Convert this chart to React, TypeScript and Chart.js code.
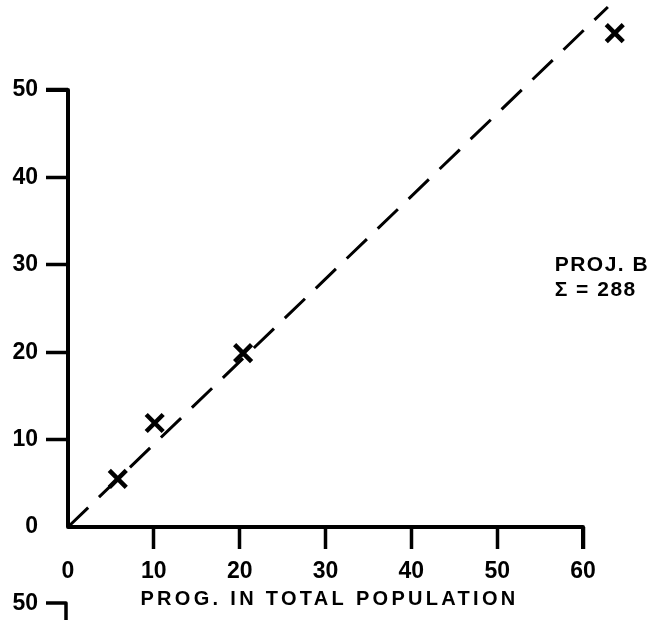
import React, { useEffect, useRef } from "react";
import { Chart, registerables } from "chart.js";

Chart.register(...registerables);

// ---- data ----
const PROG_TOTAL_POP = [5.8, 10.1, 20.4, 63.7]; // x: Prog. in total population
const PROG_PROJECT = [5.5, 11.9, 19.9, 56.5]; // y: Prog. in project B
const FIT_X = [0, 62.9];
const FIT_Y = [0, 59.5];
const X_TICKS = [0, 10, 20, 30, 40, 50, 60];
const Y_TICKS = [0, 10, 20, 30, 40, 50];
const X_TITLE = "PROG. IN TOTAL POPULATION";
const ANNOT_LINES = ["PROJ. B", "\u03A3 = 288"];
const ANNOT_POS = { x: 56.7, y: 30 };
const NEXT_PANEL_LABEL = "50";

const FONT = "'Liberation Sans', Arial, Helvetica, sans-serif";
const TICK_LEN = 22;
const AXIS_W = 4;

const decorPlugin = {
  id: "decor",
  beforeDatasetsDraw(chart: any) {
    const { ctx, scales } = chart;
    const xs = scales.x;
    const ys = scales.y;
    const x0 = xs.getPixelForValue(X_TICKS[0]);
    const x1 = xs.getPixelForValue(X_TICKS[X_TICKS.length - 1]);
    const y0 = ys.getPixelForValue(Y_TICKS[0]);
    const y1 = ys.getPixelForValue(Y_TICKS[Y_TICKS.length - 1]);
    ctx.save();
    ctx.strokeStyle = "#000";
    ctx.lineWidth = AXIS_W;
    ctx.lineJoin = "round";
    ctx.lineCap = "butt";
    ctx.beginPath();
    ctx.moveTo(x0 - TICK_LEN, y1);
    ctx.lineTo(x0, y1);
    ctx.lineTo(x0, y0);
    ctx.lineTo(x1, y0);
    ctx.lineTo(x1, y0 + TICK_LEN);
    ctx.stroke();
    ctx.restore();
  },
  afterDraw(chart: any) {
    const { ctx, scales } = chart;
    const xs = scales.x;
    const ys = scales.y;
    const x0 = xs.getPixelForValue(X_TICKS[0]);
    const x1 = xs.getPixelForValue(X_TICKS[X_TICKS.length - 1]);
    ctx.save();
    ctx.fillStyle = "#000";
    ctx.strokeStyle = "#000";
    // x-axis title
    ctx.font = `bold 20px ${FONT}`;
    (ctx as any).letterSpacing = "3.3px";
    ctx.textAlign = "center";
    ctx.textBaseline = "middle";
    ctx.fillText(X_TITLE, (x0 + x1) / 2 + 4, 599);
    // annotation
    ctx.font = `bold 21px ${FONT}`;
    (ctx as any).letterSpacing = "1.5px";
    ctx.textAlign = "left";
    const ax = xs.getPixelForValue(ANNOT_POS.x);
    const ay = ys.getPixelForValue(ANNOT_POS.y);
    ANNOT_LINES.forEach((t, i) => ctx.fillText(t, ax, ay + i * 25));
    // next panel's top (partially visible)
    ctx.font = `bold 23px ${FONT}`;
    (ctx as any).letterSpacing = "0px";
    ctx.textAlign = "right";
    ctx.fillText(NEXT_PANEL_LABEL, x0 - TICK_LEN - 8, 604);
    ctx.lineWidth = 3.5;
    ctx.lineJoin = "round";
    ctx.beginPath();
    ctx.moveTo(x0 - TICK_LEN, 603);
    ctx.lineTo(x0 - 2, 603);
    ctx.lineTo(x0 - 2, chart.height);
    ctx.stroke();
    ctx.restore();
  },
};

export default function App() {
  const ref = useRef<HTMLCanvasElement | null>(null);
  useEffect(() => {
    if (!ref.current) return;
    const points = PROG_TOTAL_POP.map((x, i) => ({ x, y: PROG_PROJECT[i] }));
    const fit = FIT_X.map((x, i) => ({ x, y: FIT_Y[i] }));
    const hideZero = (c: any) => (c.tick && c.tick.value === 0 ? "rgba(0,0,0,0)" : "#000");
    const chart = new Chart(ref.current, {
      type: "scatter",
      data: {
        datasets: [
          {
            type: "line",
            data: fit,
            borderColor: "#000",
            borderWidth: 3,
            borderDash: [28, 15],
            pointRadius: 0,
            fill: false,
            clip: false,
          } as any,
          {
            data: points,
            pointStyle: "crossRot",
            pointRadius: 12,
            pointBorderWidth: 4.5,
            borderColor: "#000",
            backgroundColor: "#000",
            clip: false,
          } as any,
        ],
      },
      options: {
        responsive: false,
        animation: false,
        devicePixelRatio: 1,
        layout: { autoPadding: false, padding: { top: 2.6, right: 18.5, left: 0, bottom: 0 } },
        plugins: { legend: { display: false }, tooltip: { enabled: false } },
        scales: {
          x: {
            type: "linear",
            position: "bottom",
            min: 0,
            max: 66,
            afterBuildTicks: (s: any) => {
              s.ticks = X_TICKS.map((v) => ({ value: v }));
            },
            afterFit: (s: any) => {
              s.height = 93;
              s.paddingLeft = 0;
              s.paddingRight = 0;
            },
            grid: {
              drawOnChartArea: false,
              drawTicks: true,
              tickLength: TICK_LEN,
              tickWidth: 3.5,
              tickColor: hideZero,
            },
            border: { display: false },
            ticks: {
              color: "#000",
              padding: 9,
              maxRotation: 0,
              font: { family: FONT, size: 23, weight: "bold" },
            },
          },
          y: {
            type: "linear",
            min: 0,
            max: 60,
            afterBuildTicks: (s: any) => {
              s.ticks = Y_TICKS.map((v) => ({ value: v }));
            },
            afterFit: (s: any) => {
              s.width = 68;
              s.paddingTop = 0;
              s.paddingBottom = 0;
            },
            grid: {
              drawOnChartArea: false,
              drawTicks: true,
              tickLength: TICK_LEN,
              tickWidth: 3.5,
              tickColor: hideZero,
            },
            border: { display: false },
            ticks: {
              color: "#000",
              padding: 8,
              font: { family: FONT, size: 23, weight: "bold" },
            },
          },
        },
      },
      plugins: [decorPlugin],
    });
    return () => chart.destroy();
  }, []);
  return (
    <div style={{ position: "absolute", left: 0, top: 0, width: 653, height: 620, background: "#fff" }}>
      <canvas ref={ref} width={653} height={620} />
    </div>
  );
}
